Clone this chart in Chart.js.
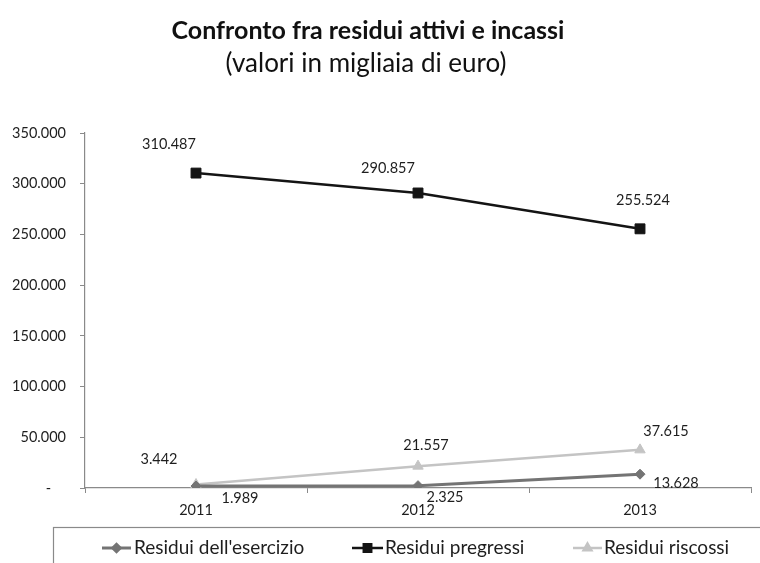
<!DOCTYPE html>
<html>
<head>
<meta charset="utf-8">
<script src="https://cdn.jsdelivr.net/npm/chart.js@4.4.1/dist/chart.umd.min.js"></script>
<style>
  html, body { margin: 0; padding: 0; background: #ffffff; }
  #wrap { width: 760px; height: 563px; }
</style>
</head>
<body>
<div id="wrap"><canvas id="chart" width="760" height="563"></canvas></div>
<script>
// Years on the horizontal axis
const years = ['2011', '2012', '2013'];

// Values in thousands of euro
const residuiEsercizio = [1989, 2325, 13628];
const residuiPregressi = [310487, 290857, 255524];
const residuiRiscossi = [3442, 21557, 37615];

// Vertical axis ticks
const yTickValues = [0, 50000, 100000, 150000, 200000, 250000, 300000, 350000];

// Series names and heading
const seriesNames = ["Residui dell'esercizio", 'Residui pregressi', 'Residui riscossi'];
const titleText = 'Confronto fra residui attivi e incassi';
const subtitleText = '(valori in migliaia di euro)';

const FONT = 'Lato, "Open Sans", sans-serif';

// Italian thousands separator; zero shown as a dash
function fmt(v) {
  if (v === 0) return '-    ';
  return String(Math.round(v)).replace(/\B(?=(\d{3})+(?!\d))/g, '.');
}

// Where each value label sits relative to its point (dx, dy in px)
const labelOffsets = [
  [[44, 12], [27, 12], [36, 9]],
  [[-27, -29], [-30, -25], [3, -28]],
  [[-37, -25], [8, -21], [26, -19]]
];

// Legend entry positions inside the framed box at the bottom
const legendSlots = [
  { x1: 102, x2: 131, tx: 134 },
  { x1: 352, x2: 383, tx: 385 },
  { x1: 573, x2: 602, tx: 604 }
];

// Two-line heading, slightly left of the canvas centre
const heading = {
  id: 'heading',
  afterDraw(chart) {
    const ctx = chart.ctx;
    ctx.save();
    ctx.fillStyle = '#111111';
    ctx.textAlign = 'center';
    ctx.textBaseline = 'middle';
    ctx.font = 'bold 25px ' + FONT;
    ctx.fillText(titleText, 368, 31);
    ctx.font = '26px ' + FONT;
    ctx.fillText(subtitleText, 366, 64);
    ctx.restore();
  }
};

const valueLabels = {
  id: 'valueLabels',
  afterDatasetsDraw(chart) {
    const ctx = chart.ctx;
    ctx.save();
    ctx.font = '14.5px ' + FONT;
    ctx.fillStyle = '#1e1e1e';
    ctx.textAlign = 'center';
    ctx.textBaseline = 'middle';
    chart.data.datasets.forEach((ds, i) => {
      const meta = chart.getDatasetMeta(i);
      meta.data.forEach((pt, j) => {
        const off = labelOffsets[i][j];
        ctx.fillText(fmt(ds.data[j]), pt.x + off[0], pt.y + off[1]);
      });
    });
    ctx.restore();
  }
};

const boxLegend = {
  id: 'boxLegend',
  afterDraw(chart) {
    const ctx = chart.ctx;
    ctx.save();
    ctx.strokeStyle = '#8a8a8a';
    ctx.lineWidth = 1.2;
    ctx.strokeRect(53.5, 527.5, 720, 60);
    const y = 548;
    ctx.font = '19px ' + FONT;
    ctx.textBaseline = 'middle';
    ctx.textAlign = 'left';
    chart.data.datasets.forEach((ds, i) => {
      const s = legendSlots[i];
      ctx.strokeStyle = ds.borderColor;
      ctx.lineWidth = ds.borderWidth;
      ctx.beginPath();
      ctx.moveTo(s.x1, y);
      ctx.lineTo(s.x2, y);
      ctx.stroke();
      ctx.fillStyle = ds.pointBackgroundColor;
      ctx.strokeStyle = ds.pointBorderColor;
      Chart.helpers.drawPoint(ctx, {
        pointStyle: ds.pointStyle,
        radius: ds.pointRadius * 0.75,
        rotation: 0,
        borderWidth: 1
      }, (s.x1 + s.x2) / 2, y);
      ctx.fillStyle = '#1e1e1e';
      ctx.fillText(seriesNames[i], s.tx, y);
    });
    ctx.restore();
  }
};

new Chart(document.getElementById('chart'), {
  type: 'line',
  data: {
    labels: years,
    datasets: [
      {
        label: seriesNames[0],
        data: residuiEsercizio,
        borderColor: '#747474',
        backgroundColor: '#747474',
        pointBackgroundColor: '#747474',
        pointBorderColor: '#747474',
        borderWidth: 3,
        pointStyle: 'rectRot',
        pointRadius: 5,
        pointBorderWidth: 1,
        tension: 0
      },
      {
        label: seriesNames[1],
        data: residuiPregressi,
        borderColor: '#141414',
        backgroundColor: '#141414',
        pointBackgroundColor: '#141414',
        pointBorderColor: '#141414',
        borderWidth: 2.5,
        pointStyle: 'rect',
        pointRadius: 7,
        pointBorderWidth: 1,
        tension: 0
      },
      {
        label: seriesNames[2],
        data: residuiRiscossi,
        borderColor: '#c4c4c4',
        backgroundColor: '#c4c4c4',
        pointBackgroundColor: '#c4c4c4',
        pointBorderColor: '#c4c4c4',
        borderWidth: 2.5,
        pointStyle: 'triangle',
        pointRadius: 6,
        pointBorderWidth: 1,
        tension: 0
      }
    ]
  },
  options: {
    responsive: false,
    devicePixelRatio: 1,
    animation: false,
    layout: { padding: { top: 133, left: 0, right: 9, bottom: 40 } },
    plugins: {
      legend: { display: false },
      tooltip: { enabled: false },
      title: { display: false }
    },
    scales: {
      x: {
        type: 'category',
        offset: true,
        grid: {
          offset: true,
          drawOnChartArea: false,
          drawTicks: true,
          tickLength: 5,
          color: '#8a8a8a',
          tickColor: '#8a8a8a'
        },
        border: { display: true, color: '#8a8a8a', width: 1.2 },
        ticks: {
          color: '#1e1e1e',
          font: { family: FONT, size: 14.5 },
          padding: 9,
          maxRotation: 0
        },
        afterFit(scale) { scale.height = 35; }
      },
      y: {
        min: 0,
        max: 350000,
        afterBuildTicks(scale) {
          scale.ticks = yTickValues.map(v => ({ value: v }));
        },
        grid: {
          drawOnChartArea: false,
          drawTicks: true,
          tickLength: 5,
          color: '#8a8a8a',
          tickColor: '#8a8a8a'
        },
        border: { display: true, color: '#8a8a8a', width: 1.2 },
        ticks: {
          color: '#1e1e1e',
          font: { family: FONT, size: 14.5 },
          padding: 14,
          callback: (v) => fmt(v)
        },
        afterFit(scale) { scale.width = 85; }
      }
    }
  },
  plugins: [heading, valueLabels, boxLegend]
});
</script>
</body>
</html>
